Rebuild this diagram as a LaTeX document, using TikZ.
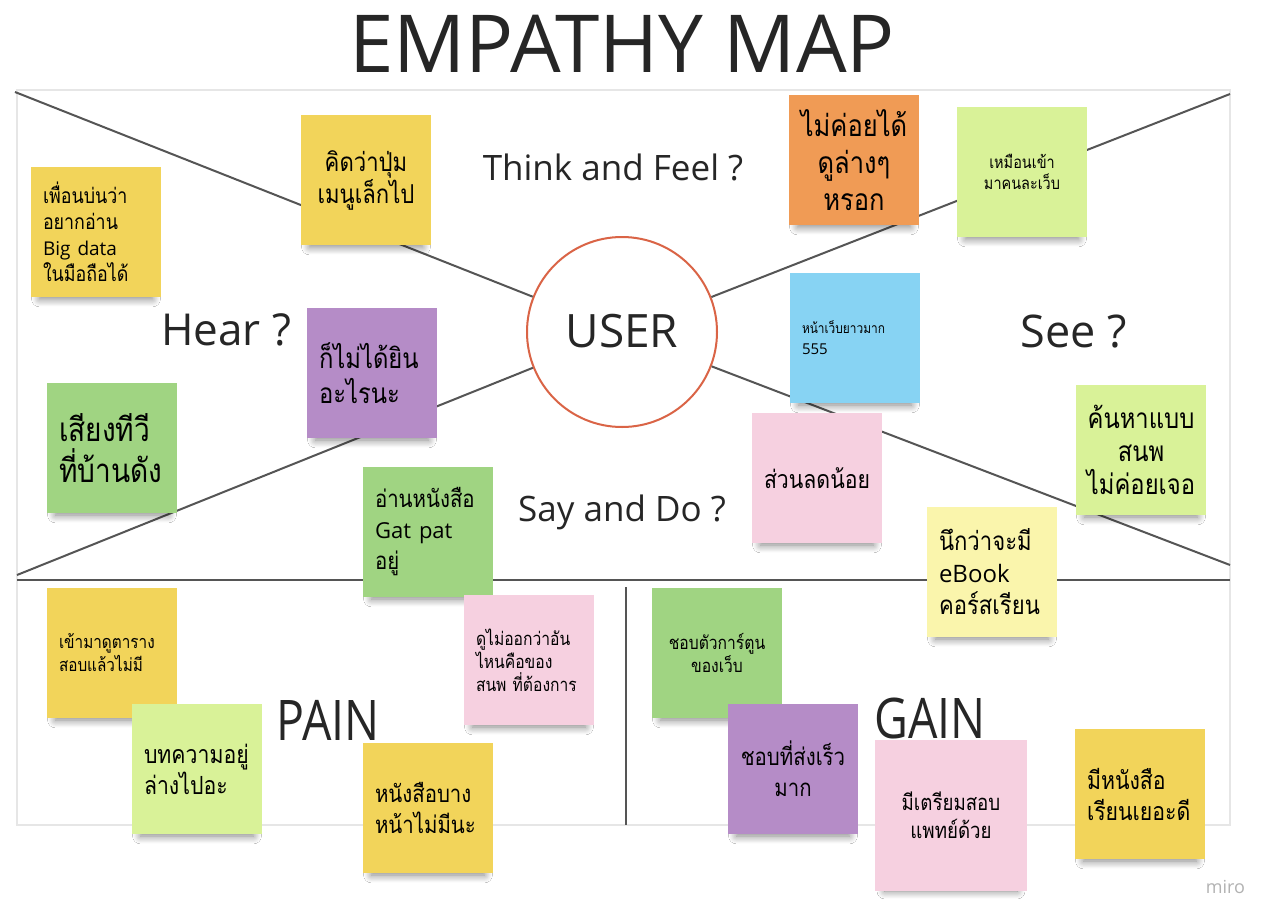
\documentclass[tikz,border=0pt]{standalone}
\usepackage{fontspec}
\setmainfont{Open Sans}
\newfontfamily\thfont[Script=Thai, FakeStretch=0.85]{Loma}
\usetikzlibrary{shadows.blur}
\definecolor{yellowN}{RGB}{242,212,90}
\definecolor{orangeN}{RGB}{240,155,85}
\definecolor{limeN}{RGB}{217,242,152}
\definecolor{greenN}{RGB}{160,212,130}
\definecolor{purpleN}{RGB}{181,140,199}
\definecolor{blueN}{RGB}{135,211,243}
\definecolor{pinkN}{RGB}{246,208,224}
\definecolor{creamN}{RGB}{250,245,172}
\definecolor{frameC}{RGB}{230,230,230}
\definecolor{lineC}{RGB}{85,85,85}
\definecolor{circC}{RGB}{218,100,70}
\newcommand\fXS{\fontsize{8.5}{10.5}\selectfont}
\newcommand\fS{\fontsize{9.2}{11.5}\selectfont}
\newcommand\fM{\fontsize{12}{15.5}\selectfont}
\newcommand\fL{\fontsize{14}{17.5}\selectfont}
\newcommand\fXL{\fontsize{16.5}{20.5}\selectfont}
\newcommand\lat[2]{{\rmfamily\fontsize{#1}{#1}\selectfont #2}}
\begin{document}
\begin{tikzpicture}[x=0.5pt,y=-0.5pt,
  note/.style={minimum width=65pt, minimum height=65pt, inner sep=0pt,
    blur shadow={shadow xshift=0pt, shadow yshift=-6pt, shadow blur radius=4.5pt, shadow blur steps=14, shadow opacity=50, shadow scale=0.87}},
  nl/.style={note, align=left, text width=53pt},
  nc/.style={note, align=center, text width=61pt},
  divline/.style={draw=lineC, line width=1pt},
  lab/.style={anchor=base, text=black!85}]
\fill[white] (0,0) rectangle (1270,916);
\useasboundingbox (0,0) rectangle (1270,916);
% frame
\draw[frameC, line width=0.8pt] (17,90) rectangle (1230,825);
\node[circle, draw=circC, line width=1pt, minimum size=95pt, inner sep=0pt] (user) at (622,332) {};
\node[lab, font=\fontsize{23}{27}\selectfont] (usert) at (622,347) {USER};
\coordinate (ctl) at (15,92);
\coordinate (ctr) at (1230,94);
\coordinate (cbl) at (17,575);
\coordinate (cbr) at (1230,565);
\coordinate (hl) at (17,580);
\coordinate (hr) at (1230,580);
\coordinate (vt) at (626,587);
\coordinate (vb) at (626,825);
\draw[divline] (ctl) -- (user);
\draw[divline] (ctr) -- (user);
\draw[divline] (cbl) -- (user);
\draw[divline] (cbr) -- (user);
\draw[divline] (hl) -- (hr);
\draw[divline] (vt) -- (vb);
% labels
\node[lab, font=\fontsize{40}{46}\selectfont] (title) at (622,72) {EMPATHY MAP};
\node[lab, font=\fontsize{17.5}{21}\selectfont] (think) at (613,180) {Think and Feel ?};
\node[lab, font=\fontsize{22}{26}\selectfont] (hear) at (226,345) {Hear ?};
\node[lab, font=\fontsize{22.5}{26}\selectfont] (see) at (1074,347) {See ?};
\node[lab, font=\fontsize{17.5}{21}\selectfont] (say) at (622,521) {Say and Do ?};
\node[lab, font=\fontsize{28}{32}\selectfont] (pain) at (328,740) {\scalebox{0.83}[1]{PAIN}};
\node[lab, font=\fontsize{28}{32}\selectfont] (gain) at (930,738) {\scalebox{0.83}[1]{GAIN}};
\node[anchor=base east, text=black!30, font=\fontsize{9}{11}\selectfont] (miro) at (1252,893) {miro};
% sticky notes
\node[nl, fill=yellowN, font=\thfont\fontsize{10.5}{13}\selectfont] (n1) at (96,232) {เพื่อนบ่นว่า\\อยากอ่าน\\\lat{9.5}{Big data}\\ในมือถือได้};
\node[nc, fill=yellowN, font=\thfont\fontsize{13}{16}\selectfont] (n2) at (366,180) {คิดว่าปุ่ม\\เมนูเล็กไป};
\node[nc, fill=orangeN, font=\thfont\fontsize{15}{18.5}\selectfont] (n3) at (854,160) {ไม่ค่อยได้\\ดูล่างๆ\\หรอก};
\node[nc, fill=limeN, font=\thfont\fXS] (n4) at (1022,172) {เหมือนเข้า\\มาคนละเว็บ};
\node[nl, fill=purpleN, font=\thfont\fL] (n5) at (372,373) {ก็ไม่ได้ยิน\\อะไรนะ};
\node[nl, fill=greenN, font=\thfont\fXL] (n6) at (112,448) {เสียงทีวี\\ที่บ้านดัง};
\node[nl, fill=greenN, font=\thfont\fM] (n7) at (428,532) {อ่านหนังสือ\\\lat{11}{Gat pat}\\อยู่};
\node[nl, fill=blueN, font=\thfont\fontsize{7}{10.5}\selectfont] (n8) at (855,338) {หน้าเว็บยาวมาก\\\lat{7.5}{555}};
\node[nc, fill=pinkN, font=\thfont\fontsize{12.5}{15.5}\selectfont] (n9) at (817,478) {ส่วนลดน้อย};
\node[nc, fill=limeN, font=\thfont\fontsize{14}{16.5}\selectfont] (n10) at (1141,450) {ค้นหาแบบ\\สนพ\\ไม่ค่อยเจอ};
\node[nl, fill=creamN, font=\thfont\fontsize{13}{16}\selectfont] (n11) at (992,572) {นึกว่าจะมี\\\lat{12}{eBook}\\คอร์สเรียน};
\node[nl, fill=yellowN, font=\thfont\fontsize{9}{11.5}\selectfont] (n12) at (112,653) {เข้ามาดูตาราง\\สอบแล้วไม่มี};
\node[nl, fill=limeN, font=\thfont\fontsize{12.5}{15.5}\selectfont] (n13) at (197,769) {บทความอยู่\\ล่างไปอะ};
\node[nl, fill=pinkN, font=\thfont\fS] (n14) at (529,660) {ดูไม่ออกว่าอัน\\ไหนคือของ\\สนพ~ที่ต้องการ};
\node[nl, fill=yellowN, font=\thfont\fM] (n15) at (428,808) {หนังสือบาง\\หน้าไม่มีนะ};
\node[nc, fill=greenN, font=\thfont\fS] (n16) at (717,653) {ชอบตัวการ์ตูน\\ของเว็บ};
\node[nc, fill=purpleN, font=\thfont\fM] (n17) at (793,769) {ชอบที่ส่งเร็ว\\มาก};
\node[nc, fill=pinkN, minimum width=76pt, minimum height=75.5pt, font=\thfont\fontsize{11}{14}\selectfont] (n18) at (951,815) {มีเตรียมสอบ\\แพทย์ด้วย};
\node[nl, fill=yellowN, font=\thfont\fontsize{12.5}{15.5}\selectfont] (n19) at (1140,794) {มีหนังสือ\\เรียนเยอะดี};
\end{tikzpicture}
\end{document}
